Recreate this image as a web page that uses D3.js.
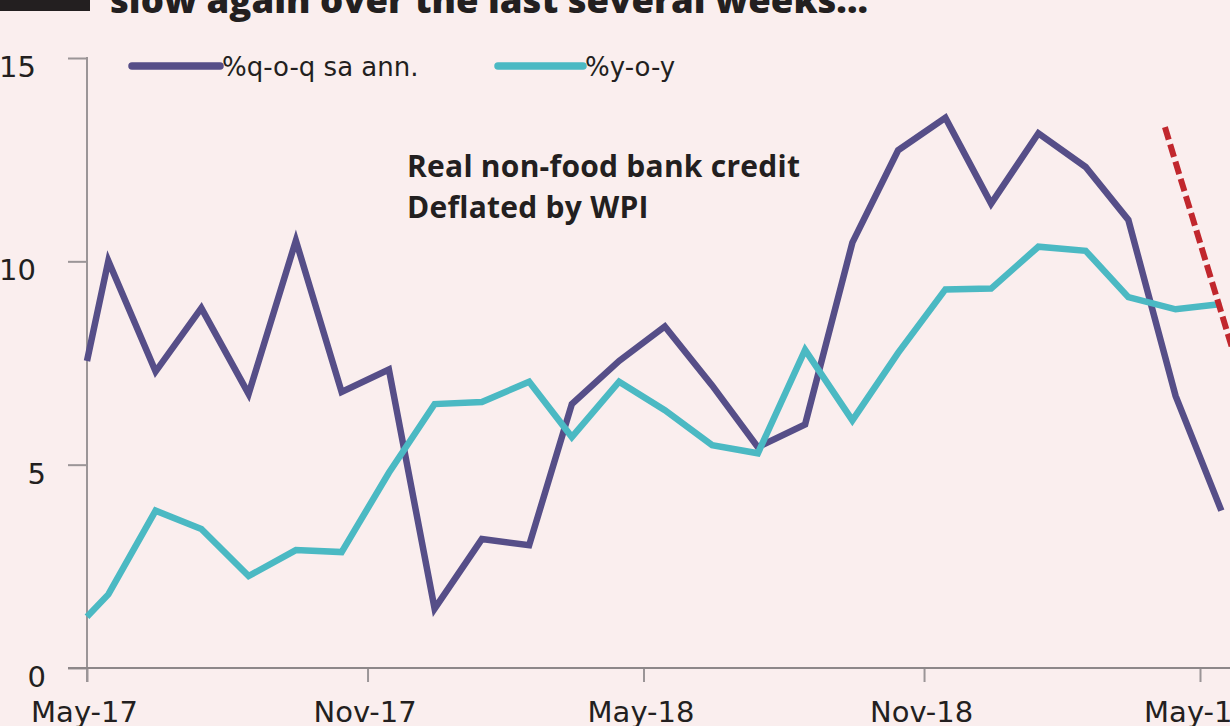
<!DOCTYPE html>
<html>
<head>
<meta charset="utf-8">
<script src="https://cdn.jsdelivr.net/npm/d3@7"></script>
<style>
  html, body { margin: 0; padding: 0; background: #faeeee; }
  svg { display: block; }
</style>
</head>
<body>
<svg id="chart" width="1230" height="726"></svg>
<script>
// Observation dates (first point sits on the axis, then mid-month readings)
const dates = [
  "2017-05-01", "2017-05-15", "2017-06-15", "2017-07-15", "2017-08-15", "2017-09-15",
  "2017-10-15", "2017-11-15", "2017-12-15", "2018-01-15", "2018-02-15", "2018-03-15",
  "2018-04-15", "2018-05-15", "2018-06-15", "2018-07-15", "2018-08-15", "2018-09-15",
  "2018-10-15", "2018-11-15", "2018-12-15", "2019-01-15", "2019-02-15", "2019-03-15",
  "2019-04-15", "2019-05-15"
];

// %q-o-q seasonally adjusted annualised
const qoq = [
  7.55, 10.01, 7.29, 8.85, 6.74, 10.51, 6.79, 7.34, 1.46, 3.17, 3.02, 6.49,
  7.55, 8.40, 6.95, 5.43, 5.99, 10.46, 12.73, 13.53, 11.42, 13.15, 12.32, 11.02,
  6.69, 3.87
];

// %y-o-y
const yoy = [
  1.26, 1.81, 3.87, 3.42, 2.26, 2.90, 2.85, 4.80, 6.49, 6.54, 7.04, 5.68,
  7.04, 6.34, 5.48, 5.28, 7.82, 6.09, 7.75, 9.31, 9.33, 10.36, 10.26, 9.12,
  8.82, 8.95
];

// Downward trend marker at the end of the series
const trendDates = ["2019-04-08", "2019-06-05"];
const trendValues = [13.3, 6.15];

const yTicks = [0, 5, 10, 15];
const xTickDates = ["2017-05-01", "2017-11-01", "2018-05-01", "2018-11-01", "2019-05-01"];
const xTickLabels = ["May-17", "Nov-17", "May-18", "Nov-18", "May-19"];

const seriesNames = ["%q-o-q sa ann.", "%y-o-y"];
const seriesColors = ["#564e88", "#4bb9c3"];

const titleText = "slow again over the last several weeks...";
const noteLines = ["Real non-food bank credit", "Deflated by WPI"];

const parse = d3.timeParse("%Y-%m-%d");
const svg = d3.select("#chart");

const x = d3.scaleTime()
  .domain([parse("2017-05-01"), parse("2019-05-01")])
  .range([87, 1200]);
const y = d3.scaleLinear().domain([0, 15]).range([668, 58]);

const axisColor = "#9b9597";
const tickFont = "'DejaVu Sans', sans-serif";

// Header fragment
svg.append("rect").attr("x", 0).attr("y", 0).attr("width", 90).attr("height", 11)
  .attr("fill", "#231f20");
svg.append("text")
  .attr("x", 110).attr("y", 13)
  .attr("font-family", "'Open Sans', sans-serif")
  .attr("font-weight", 800)
  .attr("font-size", 35)
  .attr("textLength", 758)
  .attr("lengthAdjust", "spacingAndGlyphs")
  .attr("fill", "#231f20")
  .text(titleText);

// Y axis
const yAxis = d3.axisLeft(y).tickValues(yTicks).tickSize(19).tickSizeOuter(0);
const gy = svg.append("g").attr("transform", "translate(87,0)").call(yAxis);
gy.select(".domain").remove();
gy.selectAll(".tick line").attr("stroke", axisColor).attr("stroke-width", 2);
gy.selectAll(".tick text")
  .attr("font-family", tickFont)
  .attr("font-size", 29)
  .attr("fill", "#231f20")
  .attr("text-anchor", "end")
  .attr("x", d => (d >= 10 ? -51 : -41))
  .attr("dy", "0")
  .attr("y", 18.5);
svg.append("line")
  .attr("x1", 87).attr("x2", 87)
  .attr("y1", y(15) - 1).attr("y2", 682)
  .attr("stroke", axisColor).attr("stroke-width", 2);

// X axis
const xAxis = d3.axisBottom(x)
  .tickValues(xTickDates.map(parse))
  .tickSize(14)
  .tickSizeOuter(0)
  .tickFormat((d, i) => xTickLabels[i]);
const gx = svg.append("g").attr("transform", "translate(0,668)").call(xAxis);
gx.select(".domain").remove();
gx.selectAll(".tick line").attr("stroke", axisColor).attr("stroke-width", 2);
gx.selectAll(".tick text")
  .attr("font-family", tickFont)
  .attr("font-size", 29)
  .attr("fill", "#231f20")
  .attr("dy", 0)
  .attr("x", -3)
  .attr("y", 54);
svg.append("line")
  .attr("x1", 68).attr("x2", 1230)
  .attr("y1", y(0)).attr("y2", y(0))
  .attr("stroke", "#8d8789").attr("stroke-width", 2);

// Series lines
const line = d3.line()
  .x((d, i) => x(parse(dates[i])))
  .y(d => y(d));

[qoq, yoy].forEach((vals, k) => {
  svg.append("path")
    .datum(vals)
    .attr("d", line)
    .attr("fill", "none")
    .attr("stroke", seriesColors[k])
    .attr("stroke-width", 6.5)
    .attr("stroke-linejoin", "miter");
});

// Trend marker
svg.append("path")
  .datum(trendValues)
  .attr("d", d3.line().x((d, i) => x(parse(trendDates[i]))).y(d => y(d)))
  .attr("fill", "none")
  .attr("stroke", "#c1272d")
  .attr("stroke-width", 6)
  .attr("stroke-dasharray", "13,5");

// Legend
const legendItems = [
  { x1: 132, x2: 220, tx: 222 },
  { x1: 498, x2: 583, tx: 585 }
];
legendItems.forEach((it, k) => {
  svg.append("line")
    .attr("x1", it.x1).attr("x2", it.x2)
    .attr("y1", 66).attr("y2", 66)
    .attr("stroke", seriesColors[k])
    .attr("stroke-width", 7.5)
    .attr("stroke-linecap", "round");
  svg.append("text")
    .attr("x", it.tx).attr("y", 76)
    .attr("font-family", tickFont)
    .attr("font-size", 26)
    .attr("fill", "#231f20")
    .text(seriesNames[k]);
});

// Annotation
svg.append("g").selectAll("text")
  .data(noteLines)
  .join("text")
  .attr("x", 407)
  .attr("y", (d, i) => 177 + i * 41)
  .attr("font-family", "'Open Sans', sans-serif")
  .attr("font-weight", 700)
  .attr("font-size", 30)
  .attr("letter-spacing", 0.25)
  .attr("fill", "#231f20")
  .text(d => d);
</script>
</body>
</html>
